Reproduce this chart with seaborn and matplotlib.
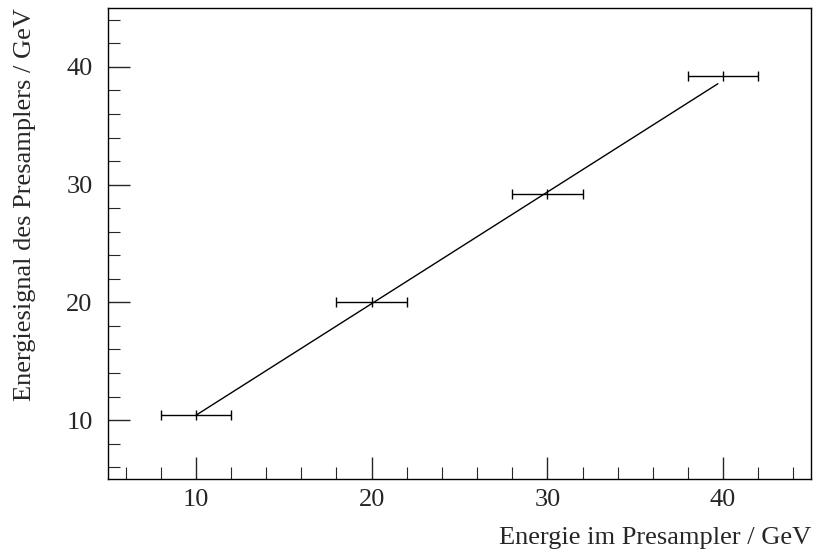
import numpy as np
import pandas as pd
import matplotlib
matplotlib.use("Agg")
import matplotlib.pyplot as plt
from matplotlib.ticker import MultipleLocator
import seaborn as sns

# Measured points: true presampler energy vs. reconstructed signal
energy_true = [10, 20, 30, 40]
energy_signal = [10.4, 20.0, 29.2, 39.2]
energy_err = [2, 2, 2, 2]

# Linear fit result
fit_slope = 0.948
fit_intercept = 0.93
fit_range = [10, 39.7]

x_ticks = [10, 20, 30, 40]
y_ticks = [10, 20, 30, 40]

sns.set_style("ticks")
plt.rcParams["font.family"] = ["Liberation Serif", "DejaVu Serif"]

fig = plt.figure(figsize=(8.13, 5.52), dpi=100)
ax = fig.add_axes([108 / 813, 1 - 479 / 552, (811 - 108) / 813, (479 - 8) / 552])

df = pd.DataFrame({"x": energy_true, "y": energy_signal, "xerr": energy_err})

# Horizontal error bars with end caps
ax.errorbar(df["x"], df["y"], xerr=df["xerr"], fmt="none", ecolor="black",
            elinewidth=1.0, capsize=3.5, capthick=1.0)
# Central marker
sns.scatterplot(data=df, x="x", y="y", marker="|", s=60, color="black",
                linewidth=1.0, ax=ax, zorder=3)

# Fit line
fit_x = np.array(fit_range)
fit_df = pd.DataFrame({"x": fit_x, "y": fit_slope * fit_x + fit_intercept})
sns.lineplot(data=fit_df, x="x", y="y", color="black", linewidth=1.0, ax=ax)

ax.set_xlim(5, 45)
ax.set_ylim(5, 45)
ax.set_xticks(x_ticks)
ax.set_yticks(y_ticks)
ax.xaxis.set_minor_locator(MultipleLocator(2))
ax.yaxis.set_minor_locator(MultipleLocator(2))
ax.tick_params(which="major", direction="in", length=16, width=1.0,
               labelsize=19, top=False, right=False)
ax.tick_params(axis="x", which="major", pad=7)
ax.tick_params(axis="y", which="major", pad=11)
ax.tick_params(which="minor", direction="in", length=8.5, width=0.8,
               top=False, right=False)
for s in ax.spines.values():
    s.set_linewidth(1.0)
    s.set_color("black")

ax.set_xlabel("")
ax.set_ylabel("")
fig.text(811 / 813, 1 - 538 / 552, "Energie im Presampler / GeV",
         ha="right", va="center", fontsize=19)
fig.text(25 / 813, 1 - 8 / 552, "Energiesignal des Presamplers / GeV",
         ha="center", va="top", rotation=90, fontsize=19)

fig.savefig("out.png", dpi=100)
